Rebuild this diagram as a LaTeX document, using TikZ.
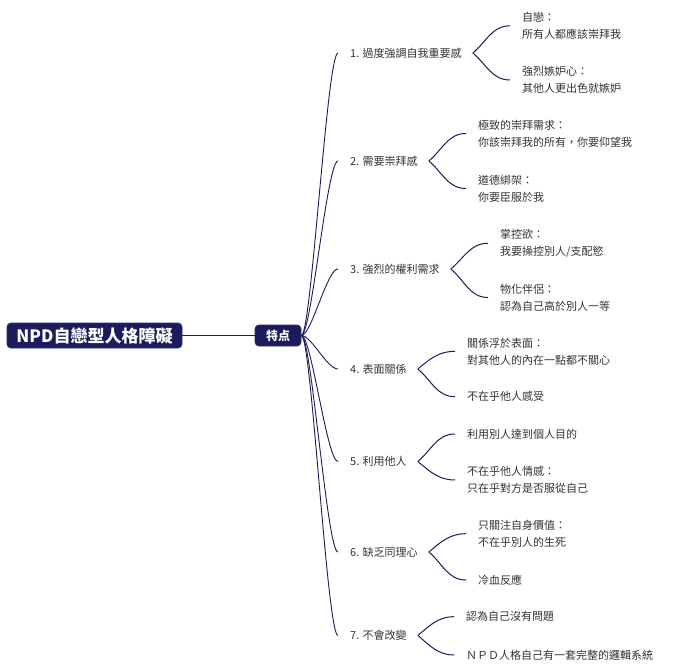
\documentclass[tikz,border=0pt]{standalone}
\usepackage{fontspec}
\setmainfont{Noto Sans CJK TC}
\usetikzlibrary{calc}
\definecolor{navy}{HTML}{1C1B5B}
\definecolor{navyedge}{HTML}{2E2D6E}
\definecolor{txt}{HTML}{333333}
\tikzset{
  rootbox/.style={fill=navy, draw=navyedge, line width=0.8pt, rounded corners=4pt, text=white,
    font=\bfseries\fontsize{17}{20}\selectfont, minimum width=175pt, minimum height=25pt, inner sep=0pt},
  subbox/.style={fill=navy, draw=navyedge, line width=0.8pt, rounded corners=4pt, text=white,
    font=\bfseries\fontsize{12}{14}\selectfont, minimum width=46pt, minimum height=21pt, inner sep=0pt},
  item/.style={anchor=west, inner sep=0pt, text=txt, font=\fontsize{11}{17}\selectfont},
  leaf/.style={item, align=left},
  link/.style={draw=navy, line width=0.9pt},
}
\begin{document}
\begin{tikzpicture}[x=1pt,y=1pt]
\fill[white] (0,0) rectangle (674,-671);
\useasboundingbox (0,0) rectangle (674,-671);

\node[rootbox] (root) at (94.5,-335.5) {NPD自戀型人格障礙};
\node[subbox] (sub) at (278,-335.5) {特点};
\draw[link] (root.east) -- (sub.west);
\coordinate (o) at (sub.east);

% level 1 items
\node[item] (i1) at (350,-53) {1. 過度強調自我重要感};
\node[item] (i2) at (350,-161) {2. 需要崇拜感};
\node[item] (i3) at (350,-269) {3. 強烈的權利需求};
\node[item] (i4) at (350,-369) {4. 表面關係};
\node[item] (i5) at (350,-461.5) {5. 利用他人};
\node[item] (i6) at (350,-552) {6. 缺乏同理心};
\node[item] (i7) at (350,-635.5) {7. 不會改變};

% leaves
\node[leaf] (c1a) at (522,-25.8) {自戀：\\所有人都應該崇拜我};
\node[leaf] (c1b) at (522,-80) {強烈嫉妒心：\\其他人更出色就嫉妒};
\node[leaf] (c2a) at (478,-133.5) {極致的崇拜需求：\\你該崇拜我的所有，你要仰望我};
\node[leaf] (c2b) at (478,-188.5) {道德綁架：\\你要臣服於我};
\node[leaf] (c3a) at (500,-243.3) {掌控欲：\\我要操控別人/支配慾};
\node[leaf] (c3b) at (500,-297.5) {物化伴侶：\\認為自己高於別人一等};
\node[leaf] (c4a) at (467,-351.3) {關係浮於表面：\\對其他人的內在一點都不關心};
\node[leaf] (c4b) at (467,-396.7) {不在乎他人感受};
\node[leaf] (c5a) at (467,-434) {利用別人達到個人目的};
\node[leaf] (c5b) at (467,-480) {不在乎他人情感：\\只在乎對方是否服從自己};
\node[leaf] (c6a) at (478,-533.7) {只關注自身價值：\\不在乎別人的生死};
\node[leaf] (c6b) at (478,-580) {冷血反應};
\node[leaf] (c7a) at (466,-616.7) {認為自己沒有問題};
\node[leaf] (c7b) at (466,-655) {ＮＰＤ人格自己有一套完整的邏輯系統};

\foreach \i/\a/\b in {1/c1a/c1b,2/c2a/c2b,3/c3a/c3b,4/c4a/c4b,5/c5a/c5b,6/c6a/c6b,7/c7a/c7b}{
  \coordinate (e\i) at ([xshift=-12pt]i\i.west);
  \draw[link] (o) .. controls ([xshift=10pt]o) and ([xshift=-11pt]e\i) .. (e\i);
  \coordinate (t\i) at ([xshift=11pt]i\i.east);
  \coordinate (ua\i) at ([xshift=-12pt]\a.west);
  \coordinate (ub\i) at ([xshift=-12pt]\b.west);
  \draw[link, line width=1pt] (t\i) to[out=40,in=180] (ua\i);
  \draw[link, line width=1pt] (t\i) to[out=-40,in=180] (ub\i);
}
\end{tikzpicture}
\end{document}
